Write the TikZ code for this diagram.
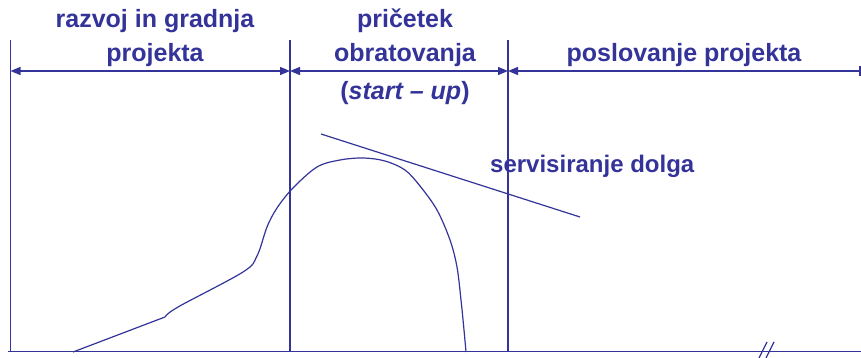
\documentclass[tikz,border=0pt]{standalone}
\usepackage{fontspec}
\setmainfont{Liberation Sans}
\usetikzlibrary{arrows.meta}
\definecolor{navy}{RGB}{51,51,153}
\begin{document}
\begin{tikzpicture}[x=1pt,y=-1pt,
  ln/.style={draw=navy,line width=1.3pt},
  dim/.style={draw=navy,line width=1.3pt,{Triangle[length=10pt,width=8pt]}-{Triangle[length=10pt,width=8pt]}},
  lbl/.style={text=navy,font=\fontsize{25}{30}\selectfont\bfseries,anchor=base,inner sep=0pt},
  lbls/.style={text=navy,font=\fontsize{24}{30}\selectfont\bfseries,anchor=base west,inner sep=0pt}]
\useasboundingbox (0,0) rectangle (861,358);
% vertical divider lines
\coordinate (v1t) at (10.5,40); \coordinate (v1b) at (10.5,352);
\coordinate (v2t) at (290,40); \coordinate (v2b) at (290,352);
\coordinate (v3t) at (508,40); \coordinate (v3b) at (508,352);
\draw[ln] (v1t) -- (v1b);
\draw[ln] (v2t) -- (v2b);
\draw[ln] (v3t) -- (v3b);
% baseline
\coordinate (b0) at (8,351.5); \coordinate (b1) at (861,351.5);
\draw[ln] (b0) -- (b1);
% dimension arrows
\coordinate (a1) at (10.5,71); \coordinate (a2) at (290,71); \coordinate (a3) at (508,71); \coordinate (a4) at (860,71);
\draw[dim] (a1) -- (a2);
\draw[dim] (a2) -- (a3);
\draw[ln,{Triangle[length=10pt,width=8pt]}-] (a3) -- (a4);
\draw[ln] (860,66) -- (860,76);
% labels
\node[lbl] (t1) at (155,28) {razvoj in gradnja};
\node[lbl] (t2) at (155,62) {projekta};
\node[lbl] (t3) at (405,28) {pričetek};
\node[lbl] (t4) at (405,62) {obratovanja};
\node[lbl] (t5) at (405,100) {(\textit{start – up})};
\node[lbl] (t6) at (684,62) {poslovanje projekta};
\node[lbls] (t7) at (490,173) {servisiranje dolga};
% curve
\draw[navy,line width=1.2pt] (73,352) -- (165,317)
  plot[smooth,tension=0.55] coordinates {(165,317) (178,307) (243,272) (257,256) (267,227) (277,208) (293,188) (317,167) (340,160) (363,158) (385,161) (405,170) (420,186) (437,210) (450,240) (457,267) (461,300) (464,330) (466,352)};
% tangent line
\draw[navy,line width=1.2pt] (321,134) -- (580,217);
% break marks
\draw[navy,line width=1.2pt] (759,358) -- (767,342);
\draw[navy,line width=1.2pt] (766,358) -- (774,342);
\end{tikzpicture}
\end{document}
